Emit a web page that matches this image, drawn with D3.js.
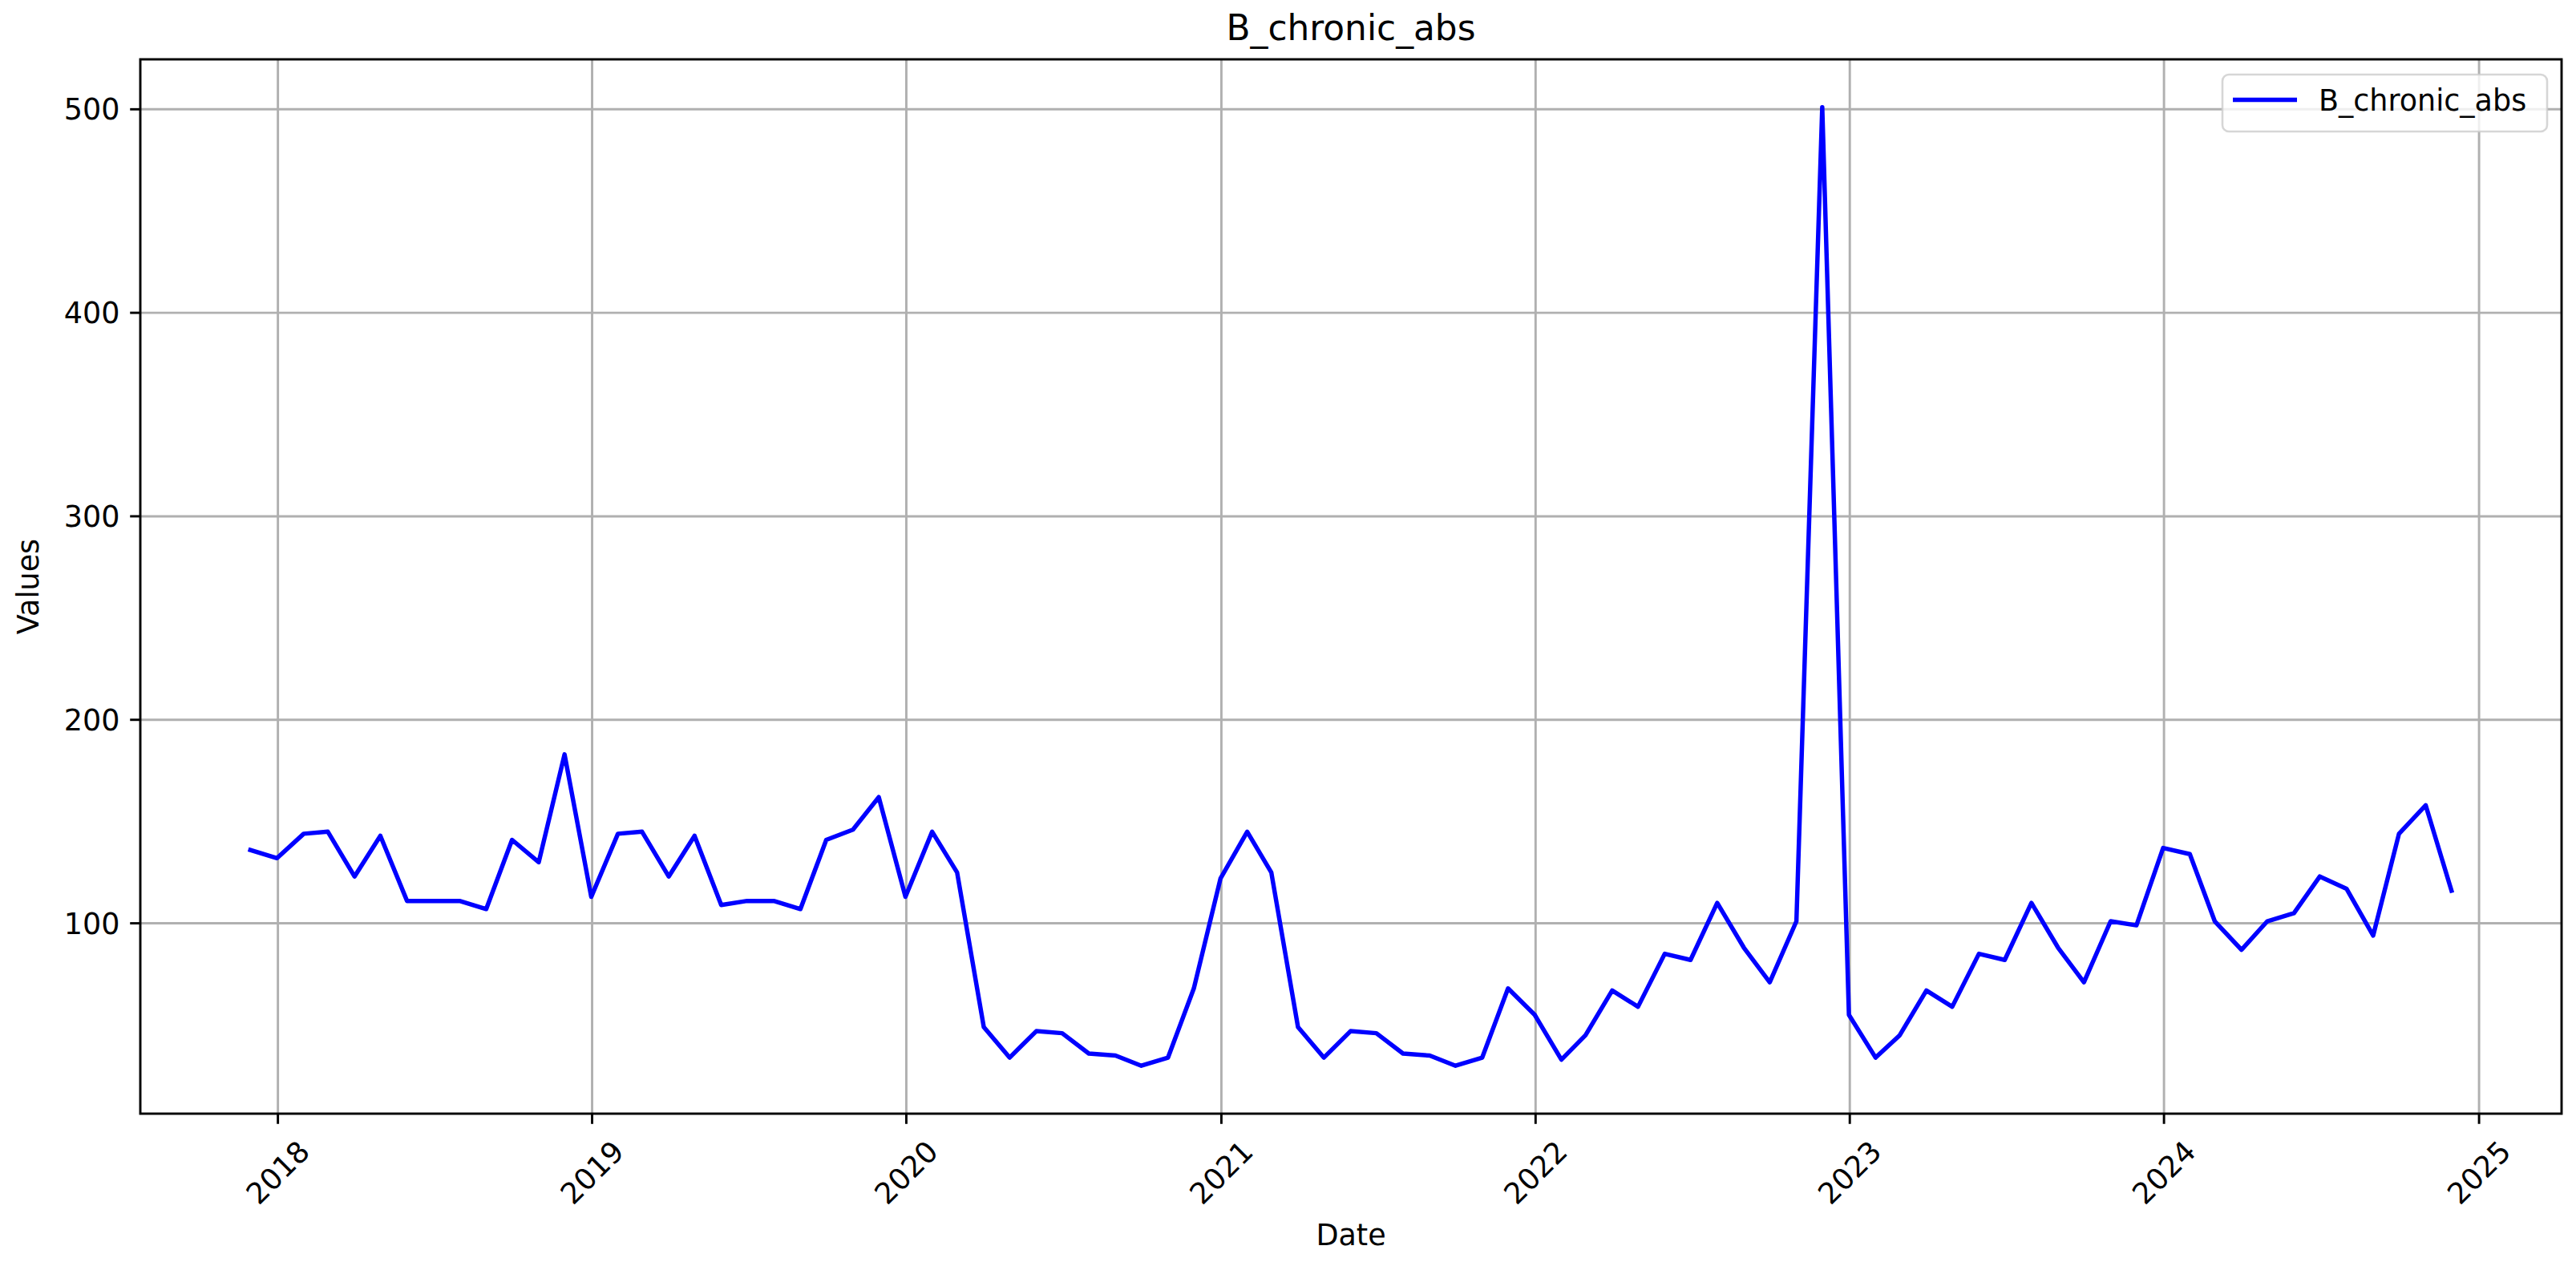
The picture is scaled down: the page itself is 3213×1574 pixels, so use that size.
<!DOCTYPE html>
<html>
<head>
<meta charset="utf-8">
<script src="https://cdn.jsdelivr.net/npm/d3@7"></script>
<style>
  body { margin: 0; background: #fff; }
  text { font-family: 'DejaVu Sans', sans-serif; fill: #000; }
</style>
</head>
<body>
<script>
var TITLE = 'B_chronic_abs',
    SERIES_NAME = 'B_chronic_abs';

// month-end dates, one row per year
var dates = [
  '2017-11-30', '2017-12-31',
  '2018-01-31', '2018-02-28', '2018-03-31', '2018-04-30', '2018-05-31', '2018-06-30',
  '2018-07-31', '2018-08-31', '2018-09-30', '2018-10-31', '2018-11-30', '2018-12-31',
  '2019-01-31', '2019-02-28', '2019-03-31', '2019-04-30', '2019-05-31', '2019-06-30',
  '2019-07-31', '2019-08-31', '2019-09-30', '2019-10-31', '2019-11-30', '2019-12-31',
  '2020-01-31', '2020-02-29', '2020-03-31', '2020-04-30', '2020-05-31', '2020-06-30',
  '2020-07-31', '2020-08-31', '2020-09-30', '2020-10-31', '2020-11-30', '2020-12-31',
  '2021-01-31', '2021-02-28', '2021-03-31', '2021-04-30', '2021-05-31', '2021-06-30',
  '2021-07-31', '2021-08-31', '2021-09-30', '2021-10-31', '2021-11-30', '2021-12-31',
  '2022-01-31', '2022-02-28', '2022-03-31', '2022-04-30', '2022-05-31', '2022-06-30',
  '2022-07-31', '2022-08-31', '2022-09-30', '2022-10-31', '2022-11-30', '2022-12-31',
  '2023-01-31', '2023-02-28', '2023-03-31', '2023-04-30', '2023-05-31', '2023-06-30',
  '2023-07-31', '2023-08-31', '2023-09-30', '2023-10-31', '2023-11-30', '2023-12-31',
  '2024-01-31', '2024-02-29', '2024-03-31', '2024-04-30', '2024-05-31', '2024-06-30',
  '2024-07-31', '2024-08-31', '2024-09-30', '2024-10-31', '2024-11-30'
];

var values = [
  136, 132,
  144, 145, 123, 143, 111, 111, 111, 107, 141, 130, 183, 113,
  144, 145, 123, 143, 109, 111, 111, 107, 141, 146, 162, 113,
  145, 125, 49, 34, 47, 46, 36, 35, 30, 34, 68, 122,
  145, 125, 49, 34, 47, 46, 36, 35, 30, 34, 68, 55,
  33, 45, 67, 59, 85, 82, 110, 88, 71, 101, 501, 55,
  34, 45, 67, 59, 85, 82, 110, 88, 71, 101, 99, 137,
  134, 101, 87, 101, 105, 123, 117, 94, 144, 158, 116
];

var xTickYears = [2018, 2019, 2020, 2021, 2022, 2023, 2024, 2025];
var yTicks = [100, 200, 300, 400, 500];

var W = 3213,
    H = 1574;
var plot = {left: 175, right: 3195, top: 74, bottom: 1389};

var FS = 36.5,        // 10pt
    FS_TITLE = 43.8;  // 12pt
var PT = FS / 10;     // px per point

var parseDate = d3.timeParse('%Y-%m-%d');
var data = dates.map(function(d, i) {
    return {date: parseDate(d), value: values[i]};
});

// matplotlib style 5% margins
function padded(ext) {
    var m = (ext[1] - ext[0]) * 0.05;
    return [ext[0] - m, ext[1] + m];
}

var tExt = d3.extent(data, function(d) { return +d.date; });
var x = d3.scaleTime()
  .domain(padded(tExt).map(function(t) { return new Date(t); }))
  .range([plot.left, plot.right]);

var y = d3.scaleLinear()
  .domain(padded(d3.extent(data, function(d) { return d.value; })))
  .range([plot.bottom, plot.top]);

var svg = d3.select('body')
  .append('svg')
  .attr('width', W)
  .attr('height', H);

svg.append('rect')
  .attr('width', W)
  .attr('height', H)
  .attr('fill', '#fff');

// grid
var grid = svg.append('g')
  .attr('stroke', '#b0b0b0')
  .attr('stroke-width', 0.8 * PT);

grid.selectAll('.vgrid')
  .data(xTickYears)
  .enter().append('line')
  .attr('x1', function(d) { return x(new Date(d, 0, 1)); })
  .attr('x2', function(d) { return x(new Date(d, 0, 1)); })
  .attr('y1', plot.top)
  .attr('y2', plot.bottom);

grid.selectAll('.hgrid')
  .data(yTicks)
  .enter().append('line')
  .attr('x1', plot.left)
  .attr('x2', plot.right)
  .attr('y1', function(d) { return y(d); })
  .attr('y2', function(d) { return y(d); });

// the series
var line = d3.line()
  .x(function(d) { return x(d.date); })
  .y(function(d) { return y(d.value); });

svg.append('path')
  .datum(data)
  .attr('fill', 'none')
  .attr('stroke', '#0000ff')
  .attr('stroke-width', 1.5 * PT)
  .attr('stroke-linejoin', 'round')
  .attr('stroke-linecap', 'square')
  .attr('d', line);

// spines
svg.append('rect')
  .attr('x', plot.left)
  .attr('y', plot.top)
  .attr('width', plot.right - plot.left)
  .attr('height', plot.bottom - plot.top)
  .attr('fill', 'none')
  .attr('stroke', '#000')
  .attr('stroke-width', 0.8 * PT);

var tickLen = 3.5 * PT,
    tickPad = 3.5 * PT;

// y ticks
var yt = svg.append('g');
yt.selectAll('line')
  .data(yTicks)
  .enter().append('line')
  .attr('x1', plot.left - tickLen)
  .attr('x2', plot.left)
  .attr('y1', function(d) { return y(d); })
  .attr('y2', function(d) { return y(d); })
  .attr('stroke', '#000')
  .attr('stroke-width', 0.8 * PT);
yt.selectAll('text')
  .data(yTicks)
  .enter().append('text')
  .attr('x', plot.left - tickLen - tickPad)
  .attr('y', function(d) { return y(d); })
  .attr('dy', '0.36em')
  .attr('text-anchor', 'end')
  .style('font-size', FS + 'px')
  .text(function(d) { return d; });

// x ticks, labels rotated 45 degrees and centred under the tick
var xt = svg.append('g');
xt.selectAll('line')
  .data(xTickYears)
  .enter().append('line')
  .attr('x1', function(d) { return x(new Date(d, 0, 1)); })
  .attr('x2', function(d) { return x(new Date(d, 0, 1)); })
  .attr('y1', plot.bottom)
  .attr('y2', plot.bottom + tickLen)
  .attr('stroke', '#000')
  .attr('stroke-width', 0.8 * PT);

var labelTop = plot.bottom + tickLen + tickPad;
xt.selectAll('text')
  .data(xTickYears)
  .enter().append('text')
  .attr('text-anchor', 'middle')
  .attr('dy', '0.346em')
  .style('font-size', FS + 'px')
  .text(function(d) { return d; })
  .each(function(d) {
      var w = this.getComputedTextLength(),
          h = FS * 1.164;
      var cx = x(new Date(d, 0, 1)),
          cy = labelTop + (w + h) / (2 * Math.SQRT2);
      d3.select(this)
        .attr('transform', 'translate(' + cx + ',' + cy + ') rotate(-45)');
  });

// axis labels and title
svg.append('text')
  .attr('x', (plot.left + plot.right) / 2)
  .attr('y', 1553)
  .attr('text-anchor', 'middle')
  .style('font-size', FS + 'px')
  .text('Date');

svg.append('text')
  .attr('transform', 'translate(48,' + (plot.top + plot.bottom) / 2 + ') rotate(-90)')
  .attr('text-anchor', 'middle')
  .style('font-size', FS + 'px')
  .text('Values');

svg.append('text')
  .attr('x', (plot.left + plot.right) / 2)
  .attr('y', 50)
  .attr('text-anchor', 'middle')
  .style('font-size', FS_TITLE + 'px')
  .text(TITLE);

// legend
var lg = svg.append('g');
lg.append('rect')
  .attr('x', 2772)
  .attr('y', 93)
  .attr('width', 405)
  .attr('height', 71)
  .attr('rx', 8)
  .attr('fill', 'rgba(255,255,255,0.8)')
  .attr('stroke', 'rgba(204,204,204,0.8)')
  .attr('stroke-width', 1.0 * PT * 0.7);
lg.append('line')
  .attr('x1', 2785)
  .attr('x2', 2865)
  .attr('y1', 124.5)
  .attr('y2', 124.5)
  .attr('stroke', '#0000ff')
  .attr('stroke-width', 1.5 * PT);
lg.append('text')
  .attr('x', 2892)
  .attr('y', 138)
  .style('font-size', FS + 'px')
  .text(SERIES_NAME);
</script>
</body>
</html>
